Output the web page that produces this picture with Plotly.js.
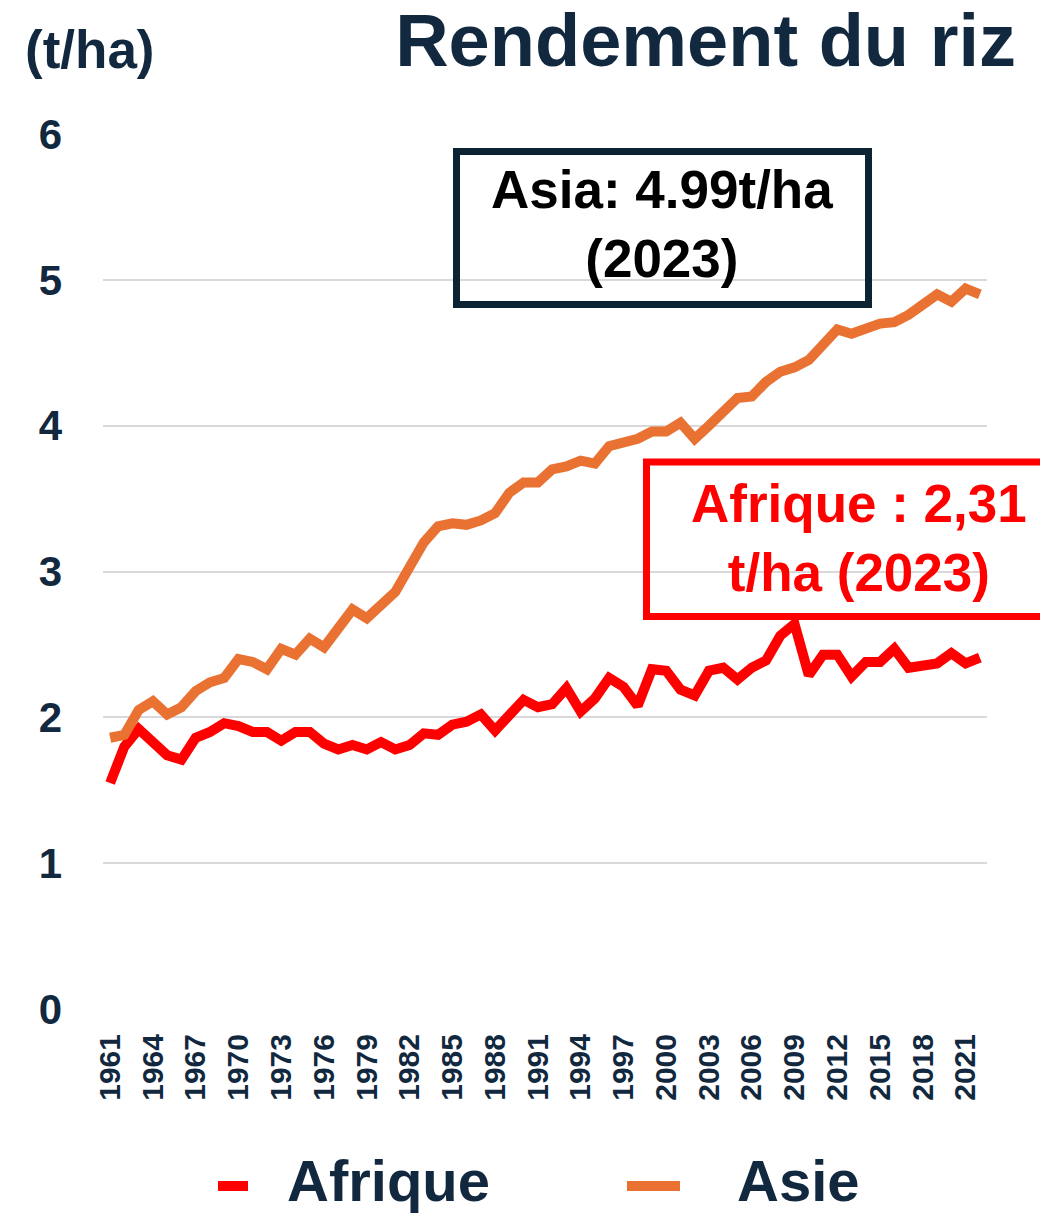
<!DOCTYPE html>
<html>
<head>
<meta charset="utf-8">
<script src="https://cdn.plot.ly/plotly-3.0.1.min.js"></script>
<style>
  html, body { margin: 0; padding: 0; background: #ffffff; }
  #chart { width: 1040px; height: 1216px; }
</style>
</head>
<body>
<div id="chart"></div>
<script>
// ---- Data ----
const years = [1961,1962,1963,1964,1965,1966,1967,1968,1969,1970,
  1971,1972,1973,1974,1975,1976,1977,1978,1979,1980,
  1981,1982,1983,1984,1985,1986,1987,1988,1989,1990,
  1991,1992,1993,1994,1995,1996,1997,1998,1999,2000,
  2001,2002,2003,2004,2005,2006,2007,2008,2009,2010,
  2011,2012,2013,2014,2015,2016,2017,2018,2019,2020,
  2021,2022];

const afrique = [1.55,1.80,1.92,1.83,1.74,1.71,1.86,1.90,1.96,1.94,
  1.90,1.90,1.84,1.90,1.90,1.82,1.78,1.81,1.78,1.83,
  1.78,1.81,1.89,1.88,1.95,1.97,2.02,1.91,2.02,2.12,
  2.07,2.09,2.20,2.04,2.13,2.27,2.21,2.08,2.33,2.32,
  2.19,2.15,2.32,2.34,2.26,2.34,2.39,2.56,2.64,2.29,
  2.43,2.43,2.28,2.38,2.38,2.47,2.34,2.35,2.37,2.44,
  2.37,2.41];

const asie = [1.86,1.88,2.05,2.11,2.02,2.07,2.18,2.24,2.27,2.40,
  2.38,2.33,2.47,2.43,2.54,2.48,2.61,2.74,2.68,2.78,
  2.86,3.03,3.20,3.31,3.33,3.32,3.35,3.40,3.54,3.61,
  3.61,3.70,3.72,3.76,3.74,3.86,3.89,3.91,3.96,3.96,
  4.02,3.91,4.00,4.09,4.19,4.20,4.30,4.37,4.40,4.45,
  4.55,4.66,4.63,4.67,4.70,4.71,4.76,4.83,4.90,4.85,
  4.94,4.90];

const xTickVals = [1961,1964,1967,1970,1973,1976,1979,1982,1985,1988,
  1991,1994,1997,2000,2003,2006,2009,2012,2015,2018,2021];
const xTickText = ["1961","1964","1967","1970","1973","1976","1979","1982","1985","1988",
  "1991","1994","1997","2000","2003","2006","2009","2012","2015","2018","2021"];
const yTickVals = [0,1,2,3,4,5,6];

const seriesNames = ["Afrique", "Asie"];
const titleText = "Rendement du riz";
const unitText = "(t/ha)";
const asiaNote = "Asia: 4.99t/ha<br>(2023)";
const afriqueNote = "Afrique : 2,31<br>t/ha (2023)";

// ---- Styles ----
const NAVY = "#12283f";
const RED = "#ff0000";
const ORANGE = "#e97132";
const FONT = "Liberation Sans, Arial, sans-serif";

const traces = [
  {x: years, y: afrique, name: seriesNames[0], type: "scatter", mode: "lines",
   line: {color: RED, width: 10}, showlegend: false, hoverinfo: "x+y"},
  {x: years, y: asie, name: seriesNames[1], type: "scatter", mode: "lines",
   line: {color: ORANGE, width: 10}, showlegend: false, hoverinfo: "x+y"}
];

// plot area in px: x 103..987, y 134..1009
const L = 103, R = 987, T = 134, B = 1009;
const W = R - L, H = B - T;
const px = v => (v - L) / W;
const py = v => (B - v) / H;

const layout = {
  width: 1040, height: 1216,
  margin: {l: L, r: 1040 - R, t: T, b: 1216 - B},
  paper_bgcolor: "#ffffff", plot_bgcolor: "#ffffff",
  font: {family: FONT, color: NAVY},
  showlegend: false,
  title: {
    text: titleText,
    font: {family: FONT, size: 74, color: NAVY, weight: "bold"},
    x: 1016 / 1040, xanchor: "right", xref: "container",
    y: 1 - 40 / 1216, yanchor: "middle", yref: "container"
  },
  xaxis: {
    range: [1960.5, 2022.5],
    tickmode: "array", tickvals: xTickVals, ticktext: xTickText,
    tickangle: -90,
    tickfont: {family: FONT, size: 30, color: NAVY, weight: "bold"},
    ticklabelstandoff: 18,
    showgrid: false, zeroline: false, showline: false, ticks: ""
  },
  yaxis: {
    range: [0, 6],
    tickmode: "array", tickvals: yTickVals,
    tickfont: {family: FONT, size: 42, color: NAVY, weight: "bold"},
    ticklabelstandoff: 40,
    showgrid: true, gridcolor: "#d9d9d9", gridwidth: 2,
    zeroline: false, showline: false, ticks: ""
  },
  shapes: [
    // Asia annotation box
    {type: "rect", xref: "paper", yref: "paper",
     x0: px(456.5), x1: px(868.5), y0: py(304.5), y1: py(151.5),
     line: {color: "#0b2333", width: 7}, fillcolor: "rgba(0,0,0,0)"},
    // Afrique annotation box (runs off the right edge)
    {type: "rect", xref: "paper", yref: "paper",
     x0: px(646.5), x1: px(1050), y0: py(616.5), y1: py(462),
     line: {color: RED, width: 7}, fillcolor: "rgba(0,0,0,0)"},
    // legend samples
    {type: "line", xref: "paper", yref: "paper",
     x0: px(218), x1: px(248), y0: py(1186), y1: py(1186),
     line: {color: RED, width: 10}},
    {type: "line", xref: "paper", yref: "paper",
     x0: px(627), x1: px(680), y0: py(1186), y1: py(1186),
     line: {color: ORANGE, width: 10}}
  ],
  annotations: [
    {text: unitText, xref: "paper", yref: "paper",
     x: px(23), y: py(50), xanchor: "left", yanchor: "middle",
     showarrow: false, font: {family: FONT, size: 53, color: NAVY, weight: "bold"}},
    {text: asiaNote, xref: "paper", yref: "paper",
     x: px(662), y: py(224), xanchor: "center", yanchor: "middle",
     showarrow: false, align: "center",
     font: {family: FONT, size: 53, color: "#000000", weight: "bold"}},
    {text: afriqueNote, xref: "paper", yref: "paper",
     x: px(859), y: py(538), xanchor: "center", yanchor: "middle",
     showarrow: false, align: "center",
     font: {family: FONT, size: 53, color: RED, weight: "bold"}},
    {text: seriesNames[0], xref: "paper", yref: "paper",
     x: px(286), y: py(1214), xanchor: "left", yanchor: "bottom",
     showarrow: false, borderpad: 0,
     font: {family: FONT, size: 58, color: NAVY, weight: "bold"}},
    {text: seriesNames[1], xref: "paper", yref: "paper",
     x: px(736), y: py(1214), xanchor: "left", yanchor: "bottom",
     showarrow: false, borderpad: 0,
     font: {family: FONT, size: 58, color: NAVY, weight: "bold"}}
  ]
};

Plotly.newPlot("chart", traces, layout, {displayModeBar: false, staticPlot: true});
</script>
</body>
</html>
